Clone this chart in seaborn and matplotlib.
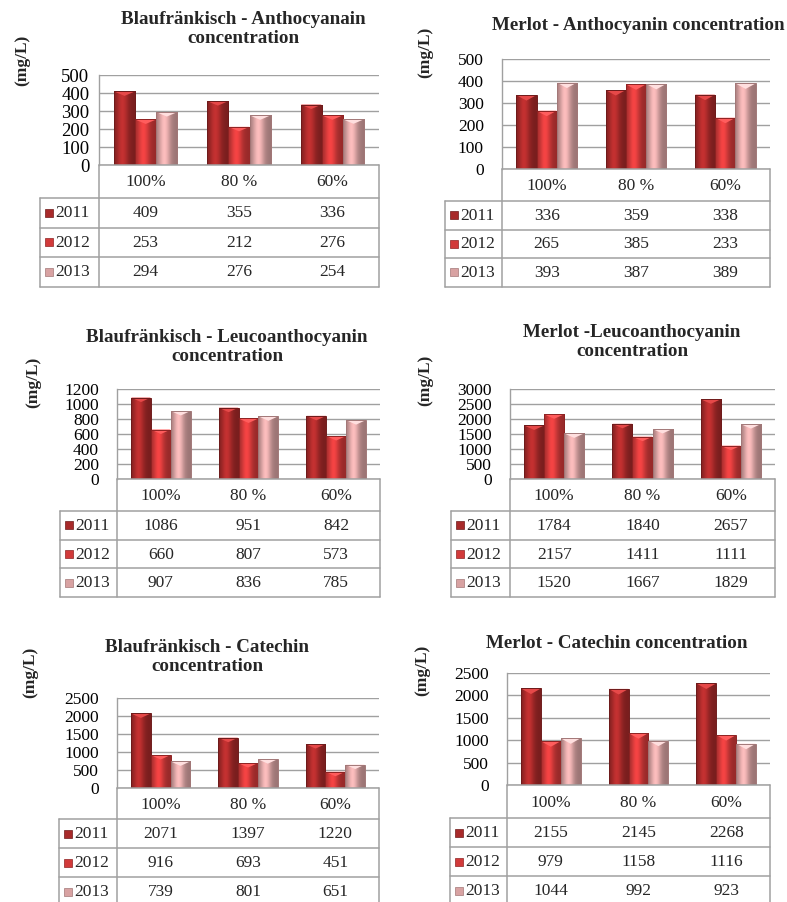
import numpy as np
import pandas as pd
import matplotlib
matplotlib.use("Agg")
import matplotlib.pyplot as plt
import seaborn as sns
from matplotlib.colors import to_rgb
from matplotlib.patches import Rectangle

# ------------------ DATA ------------------
levels = ['100%', '80 %', '60%']
years = ['2011', '2012', '2013']

blauf_antho = [[409, 355, 336], [253, 212, 276], [294, 276, 254]]
merlot_antho = [[336, 359, 338], [265, 385, 233], [393, 387, 389]]
blauf_leuco = [[1086, 951, 842], [660, 807, 573], [907, 836, 785]]
merlot_leuco = [[1784, 1840, 2657], [2157, 1411, 1111], [1520, 1667, 1829]]
blauf_cate = [[2071, 1397, 1220], [916, 693, 451], [739, 801, 651]]
merlot_cate = [[2155, 2145, 2268], [979, 1158, 1116], [1044, 992, 923]]

titles = [
    'Blaufränkisch - Anthocyanain\nconcentration',
    'Merlot - Anthocyanin concentration',
    'Blaufränkisch - Leucoanthocyanin\nconcentration',
    'Merlot -Leucoanthocyanin\nconcentration',
    'Blaufränkisch - Catechin\nconcentration',
    'Merlot - Catechin concentration',
]
y_ticks = [
    [0, 100, 200, 300, 400, 500],
    [0, 100, 200, 300, 400, 500],
    [0, 200, 400, 600, 800, 1000, 1200],
    [0, 500, 1000, 1500, 2000, 2500, 3000],
    [0, 500, 1000, 1500, 2000, 2500],
    [0, 500, 1000, 1500, 2000, 2500],
]
panel_data = [blauf_antho, merlot_antho, blauf_leuco, merlot_leuco, blauf_cate, merlot_cate]

year_colors = ['#a82a2a', '#d23a3a', '#d8a2a2']
edge_colors = ['#6e1b1b', '#8e2323', '#a27878']

# layout in pixels: plot left, right, top, bottom, category row bottom, table left,
# row height, title centre, ylabel centre, tick label pad
layout = [
    dict(pl=99, pr=379, pt=75, pb=165, cb=198, tl=40, rh=29.5, tx=243, ty=29, lx=22, ly=60, pad=7),
    dict(pl=502, pr=770, pt=59, pb=169, cb=201, tl=445, rh=28.5, tx=638, ty=25, lx=425, ly=52, pad=13),
    dict(pl=117, pr=380, pt=389, pb=479, cb=511, tl=60, rh=28.7, tx=227, ty=347, lx=33, ly=382, pad=13),
    dict(pl=510, pr=775, pt=389, pb=479, cb=511, tl=451, rh=28.7, tx=632, ty=342, lx=425, ly=380, pad=13),
    dict(pl=117, pr=379, pt=698, pb=788, cb=819, tl=59, rh=29, tx=207, ty=657, lx=30, ly=672, pad=13),
    dict(pl=507, pr=770, pt=673, pb=785, cb=818, tl=450, rh=29, tx=617, ty=643, lx=422, ly=670, pad=13),
]

W, H = 787, 902
sns.set_theme(style="white")
plt.rcParams['font.family'] = ['Liberation Serif', 'DejaVu Serif']

fig = plt.figure(figsize=(W / 100, H / 100), dpi=100)
fig.patch.set_facecolor('white')

line_col = '#a0a0a0'
txt_size = 12.5


def px_axes(left, top, right, bottom):
    return fig.add_axes([left / W, 1 - bottom / H, (right - left) / W, (bottom - top) / H])


def shade_bars(ax, ymax):
    # horizontal gradient to imitate the cylinder-like 3D bars
    t = np.linspace(0, 1, 40)
    profile = 0.72 + 0.45 * np.exp(-((t - 0.38) / 0.28) ** 2)
    for i, bar in enumerate(ax.patches):
        h = bar.get_height()
        if h <= 0:
            continue
        yi = i // 3
        base = np.array(to_rgb(year_colors[yi]))
        img = np.clip(base[None, None, :] * profile[None, :, None], 0, 1)
        x0, w = bar.get_x(), bar.get_width()
        im = ax.imshow(img, extent=[x0, x0 + w, 0, h], aspect='auto',
                       zorder=bar.get_zorder() + 0.1, interpolation='bilinear')
        im.set_clip_path(bar)
        # lighter cap at the top of each bar
        cap = ymax * 0.05
        ax.fill([x0, x0 + w / 2, x0 + w], [h, h - cap, h],
                color=np.clip(base * 1.25 + 0.08, 0, 1), zorder=bar.get_zorder() + 0.2, lw=0)
        ax.add_patch(Rectangle((x0, 0), w, h, fill=False, ec=edge_colors[yi], lw=0.7,
                               zorder=bar.get_zorder() + 0.3))


for k, (vals, g) in enumerate(zip(panel_data, layout)):
    df = pd.DataFrame({
        'level': np.tile(levels, 3),
        'year': np.repeat(years, 3),
        'value': np.array(vals).ravel(),
    })
    ax = px_axes(g['pl'], g['pt'], g['pr'], g['pb'])
    sns.barplot(data=df, x='level', y='value', hue='year', order=levels, hue_order=years,
                palette=year_colors, width=0.68, gap=0, ax=ax, legend=False,
                saturation=1, linewidth=0)
    ticks = y_ticks[k]
    shade_bars(ax, ticks[-1])
    ax.set_xlim(-0.5, 2.5)
    ax.set_ylim(0, ticks[-1])
    ax.set_yticks(ticks)
    ax.set_yticklabels([str(t) for t in ticks], fontsize=13.5 if k == 0 else txt_size)
    ax.tick_params(axis='y', length=0, pad=g['pad'], colors='black')
    ax.set_xticks([])
    ax.set_xlabel('')
    ax.set_ylabel('')
    ax.yaxis.grid(True, color=line_col, lw=1)
    ax.set_axisbelow(True)
    for s in ['top', 'right', 'bottom']:
        ax.spines[s].set_visible(False)
    ax.spines['left'].set_color(line_col)
    ax.spines['left'].set_linewidth(1)
    ax.set_facecolor('white')

    # title and unit label
    fig.text(g['tx'] / W, 1 - g['ty'] / H, titles[k], ha='center', va='center',
             fontsize=13.7, fontweight='bold', linespacing=1.1)
    fig.text(g['lx'] / W, 1 - g['ly'] / H, '(mg/L)', ha='center', va='center',
             rotation=90, fontsize=12.5, fontweight='bold')

    # data table under the chart, drawn in pixel coordinates
    tb = g['cb'] + 3 * g['rh']
    tax = px_axes(g['tl'], g['pb'], g['pr'], tb)
    tax.set_xlim(g['tl'], g['pr'])
    tax.set_ylim(tb, g['pb'])
    tax.axis('off')
    kw = dict(color=line_col, lw=1.1, clip_on=False)
    tax.plot([g['pl'], g['pr']], [g['pb'], g['pb']], **kw)
    tax.plot([g['pl'], g['pl']], [g['pb'], tb], **kw)
    tax.plot([g['pr'], g['pr']], [g['pb'], tb], **kw)
    tax.plot([g['tl'], g['tl']], [g['cb'], tb], **kw)
    for r in range(4):
        yy = g['cb'] + r * g['rh']
        tax.plot([g['tl'], g['pr']], [yy, yy], **kw)
    cw = (g['pr'] - g['pl']) / 3
    centers = [g['pl'] + (i + 0.5) * cw for i in range(3)]
    for i, lv in enumerate(levels):
        tax.text(centers[i], (g['pb'] + g['cb']) / 2 + 1, lv, ha='center', va='center',
                 fontsize=txt_size)
    for r, yr in enumerate(years):
        yc = g['cb'] + (r + 0.5) * g['rh']
        tax.add_patch(Rectangle((g['tl'] + 5, yc - 4), 8, 8, color=year_colors[r],
                                ec=edge_colors[r], lw=0.5, clip_on=False))
        tax.text(g['tl'] + 15, yc + 0.5, yr, ha='left', va='center', fontsize=txt_size)
        for i in range(3):
            tax.text(centers[i], yc + 0.5, str(vals[r][i]), ha='center', va='center',
                     fontsize=txt_size)

fig.savefig('out.png', dpi=100, facecolor='white')
